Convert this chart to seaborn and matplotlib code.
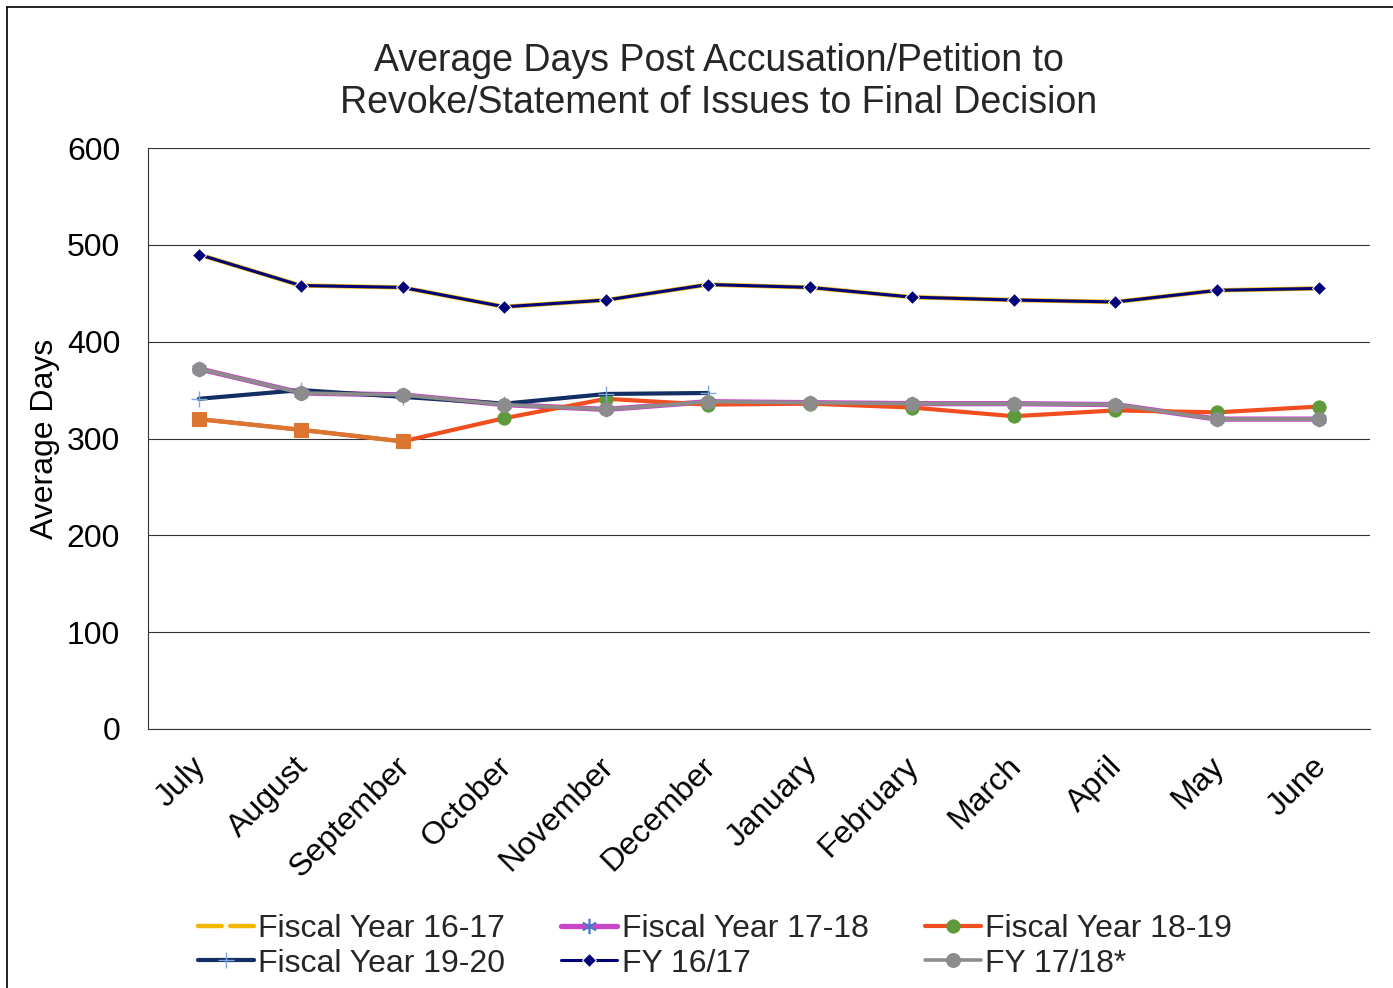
import numpy as np
import seaborn as sns
import matplotlib.pyplot as plt
import matplotlib.transforms as mtransforms
from matplotlib.lines import Line2D

# Values
months = ["July", "August", "September", "October", "November", "December",
          "January", "February", "March", "April", "May", "June"]
fy_16_17 = [490, 458, 456, 436, 443, 459, 456, 446, 443, 441, 453, 455]
fy_17_18 = [372, 347, 345, 335, 330, 338, 337, 336, 336, 335, 320, 320]
fy_18_19 = [320, 309, 297, 321, 341, 335, 336, 332, 323, 329, 327, 333]
fy_19_20 = [341, 350, 343, 336, 346, 347]
fy_1617_alt = fy_16_17
fy_1718_alt = fy_17_18

x = np.arange(len(months))

sns.set_style("white")
plt.rcParams['font.family'] = ['Liberation Sans', 'DejaVu Sans']

fig = plt.figure(figsize=(13.93, 9.88), dpi=100)
ax = fig.add_axes([148 / 1393, 1 - 729 / 988, (1370 - 148) / 1393, (729 - 148) / 988])

asterisk = (6, 2, 0)
sns.lineplot(x=x, y=fy_16_17, ax=ax, color="#F2B800", lw=3.2, marker="x",
             markersize=10, markeredgewidth=1.4, label="Fiscal Year 16-17")
sns.lineplot(x=x, y=fy_17_18, ax=ax, color="#C845C8", lw=3.8, marker=asterisk,
             markersize=11, markeredgecolor="#4A7BC4", markeredgewidth=1.2,
             label="Fiscal Year 17-18")
sns.lineplot(x=x, y=fy_18_19, ax=ax, color="#F04E1E", lw=3.0, marker="o",
             markersize=9.5, markerfacecolor="#5E9A3A", markeredgecolor="#5E9A3A",
             label="Fiscal Year 18-19")
# first quarter drawn orange with square markers in the original
sns.lineplot(x=x[:3], y=fy_18_19[:3], ax=ax, color="#DC7530", lw=3.0, marker="s",
             markersize=9.5, markeredgecolor="#DC7530", legend=False)
sns.lineplot(x=x[:len(fy_19_20)], y=fy_19_20, ax=ax, color="#132E63", lw=3.0,
             marker="+", markersize=11, markeredgewidth=1.0, markeredgecolor="#7FA6DA",
             label="Fiscal Year 19-20")
sns.lineplot(x=x, y=fy_1617_alt, ax=ax, color="#00007A", lw=2.2, marker="D",
             markersize=7.5, label="FY 16/17")
sns.lineplot(x=x, y=fy_1718_alt, ax=ax, color="#8C8C8C", lw=2.6, marker="o",
             markersize=10, markeredgecolor="#8C8C8C", label="FY 17/18*")

ax.set_xlim(-0.5, len(months) - 0.5)
ax.set_ylim(0, 600)
ax.set_yticks(range(0, 601, 100))
ax.set_xticks(x)
ax.set_xticklabels(months, rotation=45, ha="right", rotation_mode="anchor", fontsize=23)
ax.tick_params(axis="y", labelsize=23, length=0, pad=20)
ax.tick_params(axis="x", length=0, pad=16)
shift = mtransforms.ScaledTranslation(-8 / 100, 0, fig.dpi_scale_trans)
for lbl in ax.get_xticklabels():
    lbl.set_transform(lbl.get_transform() + shift)
ax.yaxis.grid(True, color="#333333", lw=0.8)
ax.set_axisbelow(True)
for side in ["top", "right"]:
    ax.spines[side].set_visible(False)
ax.spines["left"].set_color("#333333")
ax.spines["bottom"].set_color("#333333")
ax.set_ylabel("Average Days", fontsize=23, labelpad=5, color="black")
ax.set_xlabel("")
ax.tick_params(colors="black")

fig.text(0.516, 1 - 82 / 988,
         "Average Days Post Accusation/Petition to\nRevoke/Statement of Issues to Final Decision",
         ha="center", va="center", fontsize=27, linespacing=1.2)

handles, labels = ax.get_legend_handles_labels()
lookup = dict(zip(labels, handles))
order = ["Fiscal Year 16-17", "Fiscal Year 19-20", "Fiscal Year 17-18",
         "FY 16/17", "Fiscal Year 18-19", "FY 17/18*"]
ax.legend([lookup[k] for k in order], order, ncol=3, loc="center",
          bbox_to_anchor=(0.464, -0.374), frameon=False, fontsize=23,
          handlelength=1.75, handletextpad=0.15, columnspacing=1.75,
          labelspacing=0.14, borderpad=0)

# thin frame around the chart area (left and top only visible)
fig.add_artist(Line2D([7 / 1393, 7 / 1393], [0, 1 - 7 / 988], color="black", lw=1.2))
fig.add_artist(Line2D([7 / 1393, 1], [1 - 7 / 988, 1 - 7 / 988], color="black", lw=1.2))

fig.savefig("out.png", dpi=100)
